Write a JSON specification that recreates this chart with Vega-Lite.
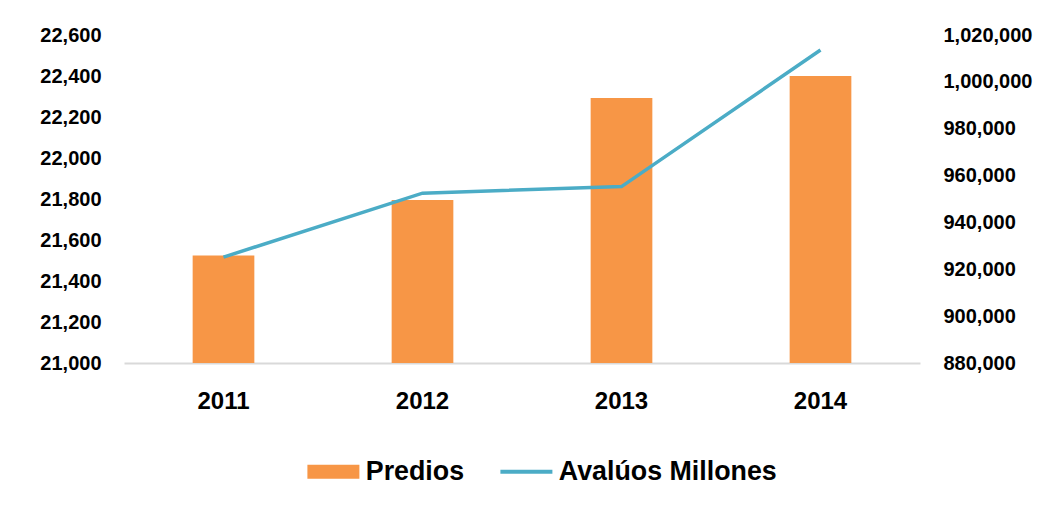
{
  "$schema": "https://vega.github.io/schema/vega-lite/v6.json",
  "width": 796,
  "height": 328,
  "autosize": {"type": "none"},
  "padding": {"left": 124, "top": 35, "right": 132, "bottom": 143},
  "background": "#ffffff",
  "config": {
    "view": {"stroke": null},
    "font": "Liberation Sans",
    "axis": {"labelFont": "Liberation Sans", "labelColor": "#000000", "labelFontWeight": "bold"}
  },
  "data": {
    "values": [
      {"year": "2011", "predios": 21525, "avaluos": 925200},
      {"year": "2012", "predios": 21795, "avaluos": 952500},
      {"year": "2013", "predios": 22293, "avaluos": 955300},
      {"year": "2014", "predios": 22400, "avaluos": 1013600}
    ]
  },
  "encoding": {
    "x": {
      "field": "year",
      "type": "ordinal",
      "scale": {"paddingInner": 0.69, "paddingOuter": 0.345},
      "axis": {
        "title": null,
        "labelAngle": 0,
        "labelFontSize": 24,
        "domainColor": "#d9d9d9",
        "domainWidth": 2,
        "ticks": false,
        "labelPadding": 26
      }
    }
  },
  "layer": [
    {
      "mark": {"type": "bar"},
      "encoding": {
        "y": {
          "field": "predios",
          "type": "quantitative",
          "scale": {"domain": [21000, 22600], "zero": false, "nice": false},
          "axis": {
            "title": null,
            "values": [21000, 21200, 21400, 21600, 21800, 22000, 22200, 22400, 22600],
            "format": ",.0f",
            "grid": false,
            "domain": false,
            "ticks": false,
            "labelFontSize": 20,
            "labelPadding": 23
          }
        },
        "y2": {"datum": 21000},
        "color": {
          "datum": "Predios",
          "type": "nominal",
          "scale": {"domain": ["Predios", "Avalúos Millones"], "range": ["#F79646", "#4BACC6"]},
          "legend": {
            "orient": "none",
            "legendX": 196,
            "legendY": 423,
            "direction": "horizontal",
            "title": null,
            "labelFont": "Liberation Sans",
            "labelFontSize": 26.8,
            "labelFontWeight": "bold",
            "labelColor": "#000000",
            "labelLimit": 400,
            "symbolSize": 2704,
            "labelOffset": 19,
            "columnPadding": 27,
            "encode": {
              "symbols": {
                "update": {
                  "shape": {"signal": "datum.value === 'Predios' ? 'M-1,-0.27H1V0.27H-1Z' : 'M-1,0H1'"},
                  "fill": {"signal": "datum.value === 'Predios' ? '#F79646' : 'transparent'"},
                  "stroke": {"signal": "datum.value === 'Predios' ? 'transparent' : '#4BACC6'"},
                  "strokeWidth": {"signal": "datum.value === 'Predios' ? 0 : 4"},
                  "opacity": {"value": 1},
                  "fillOpacity": {"value": 1},
                  "strokeOpacity": {"value": 1}
                }
              }
            }
          }
        }
      }
    },
    {
      "mark": {"type": "line", "strokeWidth": 3.5},
      "encoding": {
        "y": {
          "field": "avaluos",
          "type": "quantitative",
          "scale": {"domain": [880000, 1020000], "zero": false, "nice": false},
          "axis": {
            "orient": "right",
            "title": null,
            "values": [880000, 900000, 920000, 940000, 960000, 980000, 1000000, 1020000],
            "format": ",.0f",
            "grid": false,
            "domain": false,
            "ticks": false,
            "labelFontSize": 20,
            "labelPadding": 23
          }
        },
        "color": {"datum": "Avalúos Millones", "type": "nominal"}
      }
    }
  ],
  "resolve": {"scale": {"y": "independent"}}
}
